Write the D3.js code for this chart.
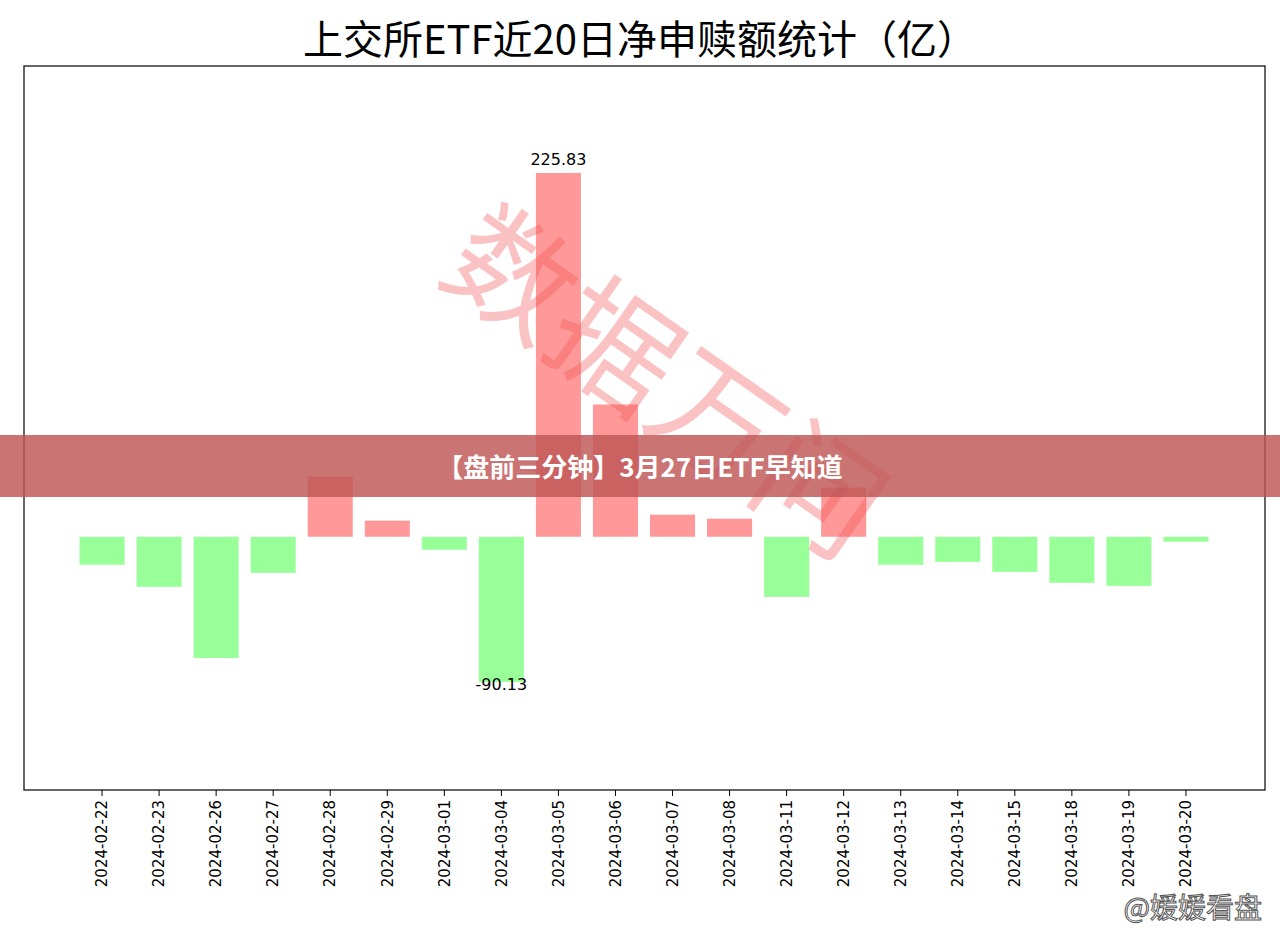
<!DOCTYPE html>
<html><head><meta charset="utf-8">
<script src="https://cdn.jsdelivr.net/npm/d3@7"></script>
<style>body{margin:0;background:#fff}</style></head>
<body><svg id="c" width="1280" height="933"></svg>
<script>
const dates=["2024-02-22","2024-02-23","2024-02-26","2024-02-27","2024-02-28","2024-02-29","2024-03-01","2024-03-04","2024-03-05","2024-03-06","2024-03-07","2024-03-08","2024-03-11","2024-03-12","2024-03-13","2024-03-14","2024-03-15","2024-03-18","2024-03-19","2024-03-20"];
const values=[-17.4,-31.1,-75.3,-22.4,37.3,10.0,-8.1,-90.13,225.83,82.1,13.7,11.2,-37.3,30.5,-17.4,-15.6,-21.8,-28.6,-30.5,-3.1];
const svg=d3.select("#c");
const L=24,R=1265,T=66,B=790;
const x=d3.scaleBand().domain(dates).range([79.5,1208.5]).paddingInner(0.21).paddingOuter(0);
const y=d3.scaleLinear().domain([-157.2,292.2]).range([B,T]);
const font="'Noto Sans CJK SC','DejaVu Sans',sans-serif";
svg.append("text").attr("x",640).attr("y",54).attr("text-anchor","middle").attr("font-size",40).attr("font-family",font).text("上交所ETF近20日净申赎额统计（亿）");
svg.selectAll("rect.bar").data(dates).join("rect").attr("class","bar")
 .attr("x",d=>x(d)).attr("width",x.bandwidth())
 .attr("y",(d,i)=>y(Math.max(0,values[i]))).attr("height",(d,i)=>Math.abs(y(values[i])-y(0)))
 .attr("fill",(d,i)=>values[i]>=0?"#ff9999":"#99ff99");
const maxI=values.indexOf(d3.max(values)),minI=values.indexOf(d3.min(values));
svg.append("text").attr("x",x(dates[maxI])+x.bandwidth()/2).attr("y",y(values[maxI])-8).attr("text-anchor","middle").attr("font-size",16).attr("font-family","DejaVu Sans").text(values[maxI].toFixed(2));
svg.append("text").attr("x",x(dates[minI])+x.bandwidth()/2).attr("y",y(values[minI])-4).attr("text-anchor","middle").attr("font-size",16).attr("font-family","DejaVu Sans").attr("dominant-baseline","hanging").text(values[minI].toFixed(2));
svg.append("rect").attr("x",L).attr("y",T).attr("width",R-L).attr("height",B-T).attr("fill","none").attr("stroke","#000").attr("stroke-width",1.2);
const ax=svg.append("g").attr("transform",`translate(0,${B})`).call(d3.axisBottom(x).tickSizeOuter(0).tickSize(6));
ax.select(".domain").remove();
ax.selectAll("text").attr("font-size",15).attr("font-family","DejaVu Sans").attr("transform","rotate(-90)").attr("text-anchor","end").attr("x",-10).attr("y",0).attr("dy","0.35em");
// watermark
svg.append("text").attr("transform","translate(640,420) rotate(35)").attr("text-anchor","middle").attr("font-size",125).attr("font-family",font).attr("fill","rgba(240,80,80,0.35)").text("数据万问");
// banner
svg.append("rect").attr("x",0).attr("y",435).attr("width",1280).attr("height",62).attr("fill","rgba(190,85,85,0.82)");
svg.append("text").attr("x",640).attr("y",477).attr("text-anchor","middle").attr("font-size",26).attr("font-weight","bold").attr("font-family",font).attr("fill","#fff").text("【盘前三分钟】3月27日ETF早知道");
svg.append("text").attr("x",1262).attr("y",918).attr("text-anchor","end").attr("font-size",28).attr("font-family",font).attr("fill","#fff").attr("stroke","#555").attr("stroke-width",1).text("@媛媛看盘");
</script></body></html>
